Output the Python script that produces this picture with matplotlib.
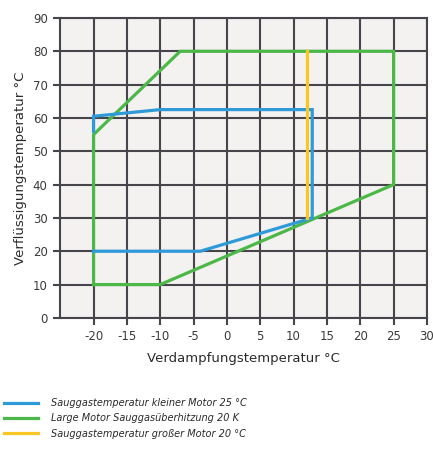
import matplotlib
matplotlib.use("Agg")
import matplotlib.pyplot as plt
from matplotlib.lines import Line2D

# Data
blue_x = [-20, -20, -10, 12.8, 12.8, -4, -20]
blue_y = [56, 60.5, 62.5, 62.5, 30, 20, 20]
green_x = [-20, -10, 25, 25, -7, -20, -20]
green_y = [10, 10, 40, 80, 80, 55, 10]
yellow_x = [12, 12]
yellow_y = [80, 30]
x_ticks = [-20, -15, -10, -5, 0, 5, 10, 15, 20, 25, 30]
y_ticks = [0, 10, 20, 30, 40, 50, 60, 70, 80, 90]
labels = ["Sauggastemperatur kleiner Motor 25 °C",
          "Large Motor Sauggasüberhitzung 20 K",
          "Sauggastemperatur großer Motor 20 °C"]
colors = ["#2f9ad8", "#4cb848", "#f9c623"]

plt.rcParams['font.family'] = ['DejaVu Sans']
plt.rcParams['axes.unicode_minus'] = False

fig = plt.figure(figsize=(4.33, 4.49), dpi=100)
fig.patch.set_facecolor("white")
ax = fig.add_axes([0.139, 0.292, 0.847, 0.668])
ax.set_facecolor("#f4f2f1")
ax.set_xlim(-25, 30)
ax.set_ylim(0, 90)
ax.set_xticks(x_ticks)
ax.set_yticks(y_ticks)
ax.grid(True, color="#45454b", linewidth=1.5)
ax.set_axisbelow(True)
for s in ax.spines.values():
    s.set_color("#45454b")
    s.set_linewidth(1.5)
ax.tick_params(axis="both", colors="#45454b", width=1.5, length=5, labelsize=8.5,
               labelcolor="#3a3a3a", pad=4)

ax.plot(green_x, green_y, color=colors[1], lw=2.3, solid_joinstyle="miter")
ax.plot(blue_x, blue_y, color=colors[0], lw=2.3, solid_joinstyle="miter")
ax.plot(yellow_x, yellow_y, color=colors[2], lw=2.3)

ax.set_xlabel("Verdampfungstemperatur °C", fontsize=9.5, color="#2a2a2a", labelpad=6)
ax.set_ylabel("Verflüssigungstemperatur °C", fontsize=9.5, color="#2a2a2a", labelpad=4)

handles = [Line2D([0], [0], color=c, lw=2.3) for c in colors]
leg = fig.legend(handles, labels, loc="upper left", bbox_to_anchor=(0.0, 0.122),
                 frameon=False, fontsize=7, handlelength=3.5, labelspacing=0.55,
                 handletextpad=1.3, borderaxespad=0)
for t in leg.get_texts():
    t.set_fontstyle("italic")
    t.set_color("#2a2a2a")

fig.savefig("out.png", dpi=100, facecolor="white")
